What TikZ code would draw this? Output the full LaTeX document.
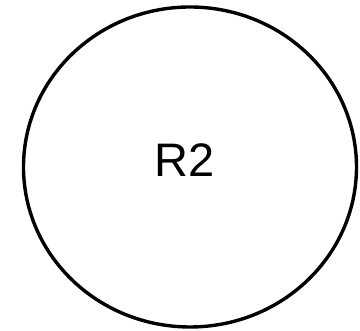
\documentclass[tikz,border=0pt]{standalone}
\usepackage{fontspec}
\setmainfont{Liberation Sans}
\usetikzlibrary{shapes.geometric}
\begin{document}
\begin{tikzpicture}[x=1pt,y=1pt,
  shapeline/.style={line width=3.4pt,draw=black},
  lbl/.style={font=\fontsize{47}{56}\selectfont,inner sep=0pt,anchor=base}]
\useasboundingbox (0,0) rectangle (360,331);
\node[shapeline,ellipse,minimum width=333pt,minimum height=320pt,inner sep=0pt] (r2) at (190,164) {};
\node[lbl] (t) at (185,154) {R2};
\end{tikzpicture}
\end{document}
